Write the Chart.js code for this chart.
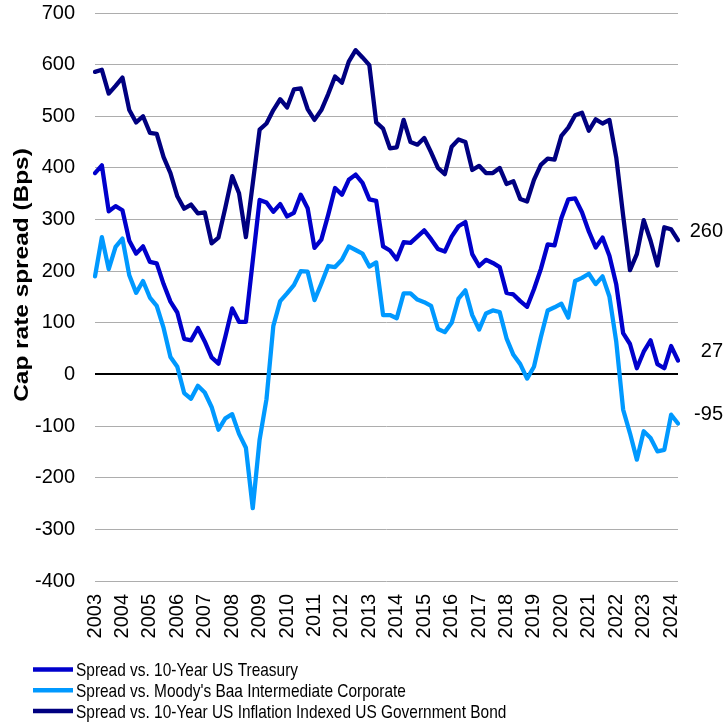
<!DOCTYPE html>
<html><head><meta charset="utf-8">
<script src="https://cdn.jsdelivr.net/npm/chart.js@4.4.1/dist/chart.umd.min.js"></script>
<style>html,body{margin:0;padding:0;background:#fff;}#wrap{width:726px;height:723px;}</style>
</head><body><div id="wrap"><canvas id="c" width="726" height="723"></canvas></div>
<script>
const quarters = [
"2003 Q1","2003 Q2","2003 Q3","2003 Q4","2004 Q1","2004 Q2","2004 Q3","2004 Q4",
"2005 Q1","2005 Q2","2005 Q3","2005 Q4","2006 Q1","2006 Q2","2006 Q3","2006 Q4",
"2007 Q1","2007 Q2","2007 Q3","2007 Q4","2008 Q1","2008 Q2","2008 Q3","2008 Q4",
"2009 Q1","2009 Q2","2009 Q3","2009 Q4","2010 Q1","2010 Q2","2010 Q3","2010 Q4",
"2011 Q1","2011 Q2","2011 Q3","2011 Q4","2012 Q1","2012 Q2","2012 Q3","2012 Q4",
"2013 Q1","2013 Q2","2013 Q3","2013 Q4","2014 Q1","2014 Q2","2014 Q3","2014 Q4",
"2015 Q1","2015 Q2","2015 Q3","2015 Q4","2016 Q1","2016 Q2","2016 Q3","2016 Q4",
"2017 Q1","2017 Q2","2017 Q3","2017 Q4","2018 Q1","2018 Q2","2018 Q3","2018 Q4",
"2019 Q1","2019 Q2","2019 Q3","2019 Q4","2020 Q1","2020 Q2","2020 Q3","2020 Q4",
"2021 Q1","2021 Q2","2021 Q3","2021 Q4","2022 Q1","2022 Q2","2022 Q3","2022 Q4",
"2023 Q1","2023 Q2","2023 Q3","2023 Q4","2024 Q1","2024 Q2"];

const seriesNames = [
"Spread vs. 10-Year US Treasury",
"Spread vs. Moody's Baa Intermediate Corporate",
"Spread vs. 10-Year US Inflation Indexed US Government Bond"];

const yAxisTitle = "Cap rate spread (Bps)";

const treasury = [390,405,316,326,318,259,234,248,218,215,175,141,120,69,66,90,64,33,21,73,
128,102,102,220,338,333,315,330,306,313,348,322,245,261,309,361,348,377,387,371,
339,336,248,240,223,256,255,267,279,262,243,238,267,287,295,233,210,222,216,208,
158,155,142,131,165,204,252,250,303,339,341,314,277,246,265,230,174,80,59,12,
44,66,20,12,55,27];

const baa = [190,266,204,247,263,192,158,181,149,133,90,34,15,-36,-47,-22,-35,-63,-107,-85,
-77,-115,-142,-259,-126,-48,94,142,157,173,200,199,144,176,210,208,222,248,241,234,
209,217,115,115,109,157,157,145,140,133,88,82,100,147,163,115,87,118,124,121,
70,38,20,-8,15,72,124,130,137,110,181,187,195,175,190,151,63,-68,-114,-165,
-110,-123,-149,-146,-78,-95];

const tips = [586,590,544,559,575,512,488,500,468,466,421,390,345,321,329,312,314,254,265,323,
384,351,266,370,474,486,512,533,517,552,554,514,493,512,543,577,565,606,628,614,
599,488,476,438,440,493,450,445,458,430,400,388,441,455,450,396,404,390,390,400,
369,374,340,335,377,406,418,416,462,478,502,507,472,494,486,493,420,308,202,233,
299,259,211,285,281,260];

const yTickValues = [-400,-300,-200,-100,0,100,200,300,400,500,600,700];
const colors = ["#0000CC", "#0099FF", "#000080"];
const FONT = '"Liberation Sans", Arial, sans-serif';

const endLabels = {
  id: 'endLabels',
  afterDatasetsDraw(chart) {
    const ctx = chart.ctx, y = chart.scales.y;
    ctx.save();
    ctx.font = '20px ' + FONT;
    ctx.fillStyle = '#000';
    ctx.textAlign = 'right';
    ctx.textBaseline = 'middle';
    chart.data.datasets.forEach(ds => {
      const v = ds.data[ds.data.length - 1];
      ctx.fillText(String(v), 723, y.getPixelForValue(v) - 9);
    });
    ctx.restore();
  }
};

const axisTitle = {
  id: 'axisTitle',
  afterDraw(chart) {
    const ctx = chart.ctx;
    ctx.save();
    ctx.font = 'bold 20px ' + FONT;
    ctx.fillStyle = '#000';
    ctx.textAlign = 'center';
    ctx.textBaseline = 'middle';
    ctx.translate(22, 275);
    ctx.rotate(-Math.PI / 2);
    ctx.scale(1.22, 1);
    ctx.fillText(yAxisTitle, 0, 0);
    ctx.restore();
  }
};

const bottomLegend = {
  id: 'bottomLegend',
  afterDraw(chart) {
    const ctx = chart.ctx;
    ctx.save();
    ctx.font = '19px ' + FONT;
    const sx = 222 / ctx.measureText(seriesNames[0]).width;
    chart.data.datasets.forEach((ds, i) => {
      const yy = 669.5 + i * 20.7;
      ctx.strokeStyle = ds.borderColor;
      ctx.lineWidth = 4.5;
      ctx.lineCap = 'butt';
      ctx.beginPath(); ctx.moveTo(33, yy); ctx.lineTo(73, yy); ctx.stroke();
      ctx.fillStyle = '#000';
      ctx.textBaseline = 'alphabetic';
      ctx.save();
      ctx.translate(76, yy + 6.7);
      ctx.scale(sx, 1);
      ctx.fillText(ds.label, 0, 0);
      ctx.restore();
    });
    ctx.restore();
  }
};

new Chart(document.getElementById('c'), {
  type: 'line',
  data: {
    labels: quarters,
    datasets: [
      {label: seriesNames[0], data: treasury, borderColor: colors[0], backgroundColor: colors[0], order: 3},
      {label: seriesNames[1], data: baa, borderColor: colors[1], backgroundColor: colors[1], order: 2},
      {label: seriesNames[2], data: tips, borderColor: colors[2], backgroundColor: colors[2], order: 1}
    ]
  },
  options: {
    responsive: false,
    animation: false,
    devicePixelRatio: 1,
    layout: {padding: {left: 0, right: 48, top: 13, bottom: 0}},
    elements: {
      line: {borderWidth: 4.3, tension: 0, borderJoinStyle: 'round', borderCapStyle: 'round', fill: false},
      point: {radius: 0, hoverRadius: 0}
    },
    plugins: {legend: {display: false}, tooltip: {enabled: false}},
    scales: {
      x: {
        type: 'category',
        offset: false,
        grid: {display: false},
        border: {display: false},
        ticks: {
          autoSkip: false, minRotation: 90, maxRotation: 90, padding: 5,
          color: '#000', font: {family: FONT, size: 20},
          callback: function(val, idx) { const l = quarters[idx]; return l.endsWith('Q1') ? l.slice(0, 4) : ''; }
        },
        afterFit(scale) { scale.height = 142; }
      },
      y: {
        min: -400, max: 700,
        afterBuildTicks(scale) { scale.ticks = yTickValues.map(v => ({value: v})); },
        grid: {
          drawTicks: false,
          color: c => (c.tick && c.tick.value === 0) ? '#000000' : '#ADADAD',
          lineWidth: c => (c.tick && c.tick.value === 0) ? 2 : 1
        },
        border: {display: false},
        ticks: {padding: 20, color: '#000', font: {family: FONT, size: 20}},
        title: {display: false},
        afterFit(scale) { scale.width = 95; scale.paddingTop = 8; scale.paddingBottom = 8; }
      }
    }
  },
  plugins: [endLabels, axisTitle, bottomLegend]
});
</script></body></html>
